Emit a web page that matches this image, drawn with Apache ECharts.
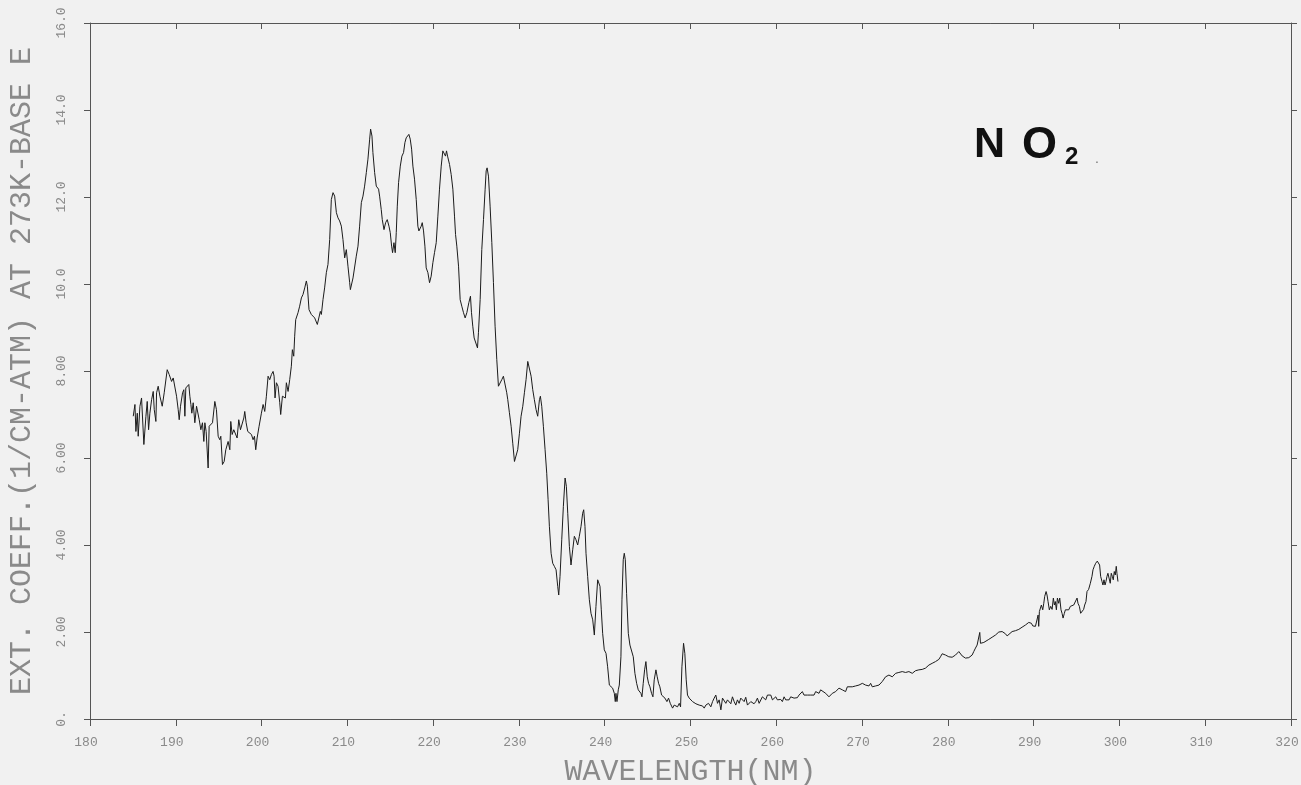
<!DOCTYPE html>
<html>
<head>
<meta charset="utf-8">
<script src="https://cdn.jsdelivr.net/npm/echarts@6/dist/echarts.min.js"></script>
<style>
html,body{margin:0;padding:0;background:#f1f1f1;}
#chart{width:1301px;height:785px;}
</style>
</head>
<body>
<div id="chart"></div>
<script>
// Wavelength (nm) / extinction coefficient pairs
const segment185to208 = [[185.04,6.96],[185.24,7.23],[185.35,6.61],[185.51,7.03],[185.62,6.50],[185.82,7.19],[186.01,7.38],[186.13,7.34],[186.28,6.31],[186.52,6.96],[186.67,7.30],[186.83,6.65],[186.98,7.03],[187.18,7.34],[187.37,7.53],[187.49,7.11],[187.68,6.84],[187.76,7.50],[187.95,7.65],[188.15,7.42],[188.42,7.19],[188.65,7.50],[188.81,7.53],[189.00,8.03],[189.23,7.92],[189.51,7.76],[189.70,7.84],[189.89,7.80],[190.09,7.42],[190.28,7.11],[190.40,6.88],[190.55,7.19],[190.79,7.50],[190.94,7.57],[191.06,6.96],[191.17,7.61],[191.33,7.57],[191.52,7.69],[191.64,7.42],[191.76,7.23],[191.87,7.03],[192.03,7.27],[192.22,6.81],[192.42,7.19],[192.53,7.23],[192.73,6.88],[192.92,6.65],[193.11,6.81],[193.27,6.38],[193.39,6.81],[193.54,6.61],[193.66,6.61],[193.77,5.77],[193.89,6.73],[194.05,6.77],[194.28,6.81],[194.55,7.30],[194.74,7.11],[194.94,6.50],[195.13,6.42],[195.25,6.50],[195.44,5.85],[195.64,5.92],[195.83,6.19],[196.10,6.38],[196.30,6.19],[196.41,6.84],[196.57,6.54],[196.76,6.65],[196.99,6.61],[197.15,6.46],[197.34,6.88],[197.54,6.65],[197.73,6.65],[197.93,6.92],[198.04,7.07],[198.20,6.81],[198.39,6.61],[198.62,6.65],[198.82,6.54],[199.01,6.42],[199.17,6.50],[199.32,6.19],[199.48,6.46],[199.71,6.73],[199.98,7.03],[200.18,7.23],[200.37,7.07],[200.56,7.42],[200.76,7.88],[200.95,7.80],[201.15,7.92],[201.34,7.99],[201.46,7.88],[201.57,7.38],[201.73,7.73],[201.92,7.65],[202.12,7.27],[202.23,7.00],[202.43,7.42],[202.62,7.46],[202.78,7.38],[202.89,7.73],[203.09,7.53],[203.28,7.80],[203.47,8.11],[203.59,8.49],[203.75,8.34],[203.86,8.80],[203.98,9.18],[204.25,9.34],[204.44,9.49],[204.64,9.68],[204.83,9.76],[205.03,9.91],[205.22,10.07],[205.34,9.95],[205.53,9.41],[205.80,9.30],[206.19,9.22],[206.50,9.07],[206.66,9.03],[206.85,9.37],[206.97,9.30],[207.16,9.64],[207.35,9.91],[207.55,10.26],[207.74,10.45]];

const segment208to229 = [[207.94,11.02],[208.13,11.94],[208.33,12.10],[208.52,12.02],[208.72,11.64],[208.91,11.52],[209.10,11.45],[209.30,11.33],[209.49,11.02],[209.69,10.60],[209.88,10.79],[210.07,10.41],[210.27,10.03],[210.35,9.87],[210.66,10.14],[210.85,10.18],[211.04,10.64],[211.24,10.87],[211.43,11.33],[211.63,11.87],[211.82,12.02],[212.01,12.25],[212.21,12.56],[212.40,12.87],[212.60,13.33],[212.71,13.56],[212.87,13.40],[212.98,13.02],[213.18,12.56],[213.37,12.25],[213.64,12.18],[213.76,12.02],[213.95,11.71],[214.07,11.48],[214.27,11.25],[214.46,11.41],[214.65,11.48],[214.85,11.33],[215.00,11.18],[215.16,10.87],[215.27,10.72],[215.43,10.95],[215.58,10.72],[215.70,11.18],[215.82,11.79],[215.97,12.33],[216.17,12.71],[216.36,12.94],[216.55,13.02],[216.71,13.25],[216.86,13.36],[217.06,13.40],[217.17,13.44],[217.33,13.33],[217.49,13.10],[217.64,12.71],[217.83,12.41],[218.03,11.94],[218.22,11.33],[218.34,11.22],[218.49,11.25],[218.61,11.33],[218.73,11.41],[218.88,11.22],[219.04,10.87],[219.19,10.37],[219.39,10.26],[219.58,10.03],[219.77,10.18],[219.97,10.49],[220.16,10.72],[220.36,10.95],[220.55,11.56],[220.74,12.18],[220.94,12.71],[221.13,13.06],[221.33,13.06],[221.44,12.94],[221.56,13.06],[221.68,12.94],[221.91,12.75],[222.10,12.52],[222.30,12.18],[222.49,11.56],[222.61,11.14],[222.76,10.87],[222.96,10.41],[223.15,9.64],[223.34,9.49],[223.54,9.34],[223.73,9.22],[223.93,9.34],[224.16,9.57],[224.35,9.72],[224.47,9.34],[224.62,9.03],[224.78,8.76],[225.01,8.72],[225.17,8.53],[225.28,8.88],[225.48,9.64],[225.67,10.79],[225.87,11.48],[226.06,12.18],[226.18,12.60],[226.29,12.67],[226.45,12.48],[226.64,11.79],[226.84,10.95],[227.03,10.03],[227.22,9.03],[227.42,8.26],[227.61,7.65],[227.81,7.65],[228.00,7.80],[228.19,7.88],[228.39,7.84],[228.58,7.50]];

const segment229to250 = [[228.70,7.34],[228.89,7.04],[229.09,6.73],[229.28,6.34],[229.48,5.92],[229.67,5.92],[229.86,6.19],[230.06,6.57],[230.25,6.96],[230.45,7.19],[230.64,7.50],[230.83,7.80],[231.03,8.22],[231.22,8.19],[231.42,7.88],[231.61,7.57],[231.80,7.34],[232.00,7.11],[232.19,6.96],[232.39,7.34],[232.50,7.42],[232.66,7.19],[232.85,6.73],[233.05,6.19],[233.24,5.65],[233.40,5.04],[233.55,4.43],[233.75,3.81],[233.94,3.58],[234.13,3.51],[234.33,3.43],[234.52,3.05],[234.64,2.85],[234.79,3.28],[234.99,4.12],[235.18,4.89],[235.38,5.54],[235.53,5.35],[235.69,4.73],[235.88,3.97],[236.07,3.54],[236.27,3.89],[236.46,4.20],[236.65,4.12],[236.85,4.00],[237.04,4.20],[237.24,4.43],[237.43,4.73],[237.55,4.81],[237.70,4.43],[237.82,3.81],[238.01,3.28],[238.21,2.74],[238.40,2.43],[238.60,2.28],[238.79,1.93],[238.98,2.59],[239.18,3.20],[239.29,3.24],[239.45,3.05],[239.60,2.51],[239.76,1.97],[239.95,1.59],[240.15,1.51],[240.34,1.20],[240.54,0.78],[240.73,0.74],[240.92,0.71],[241.12,0.59],[241.23,0.40],[241.31,0.59],[241.43,0.40],[241.58,0.67],[241.70,0.78],[241.89,1.43],[242.01,2.74],[242.16,3.66],[242.28,3.81],[242.40,3.66],[242.55,2.89],[242.75,1.97],[242.94,1.70],[243.13,1.74],[243.33,1.43],[243.52,1.05],[243.72,0.82],[243.91,0.67],[244.07,0.63],[244.22,0.59],[244.34,0.51],[244.49,0.82],[244.65,1.13],[244.80,1.32],[244.96,0.97],[245.11,0.82],[245.27,0.74],[245.46,0.59],[245.62,0.51],[245.77,0.90],[245.97,1.13],[246.12,0.97],[246.28,0.82],[246.43,0.74],[246.63,0.55],[246.82,0.51],[247.02,0.48],[247.25,0.40],[247.44,0.48],[247.64,0.36],[247.91,0.25],[248.10,0.32],[248.30,0.36],[248.49,0.28],[248.69,0.36],[248.84,0.28],[249.00,1.20],[249.19,1.74],[249.34,1.51],[249.50,0.90],[249.65,0.55],[249.85,0.48]];

const segment250to286 = [[250.04,0.48],[250.24,0.40],[250.63,0.35],[251.01,0.32],[251.40,0.30],[251.60,0.25],[251.79,0.32],[252.10,0.36],[252.37,0.28],[252.57,0.40],[252.76,0.48],[252.95,0.55],[253.15,0.36],[253.34,0.44],[253.54,0.21],[253.73,0.48],[253.92,0.51],[254.12,0.36],[254.31,0.44],[254.51,0.48],[254.70,0.35],[254.89,0.51],[255.09,0.40],[255.28,0.32],[255.47,0.44],[255.67,0.36],[255.86,0.48],[256.06,0.48],[256.25,0.40],[256.44,0.50],[256.64,0.32],[256.83,0.28],[257.03,0.40],[257.22,0.44],[257.41,0.35],[257.61,0.40],[257.80,0.48],[258.00,0.36],[258.38,0.51],[258.58,0.55],[258.77,0.44],[258.97,0.55],[259.16,0.51],[259.36,0.55],[259.55,0.44],[259.74,0.48],[259.94,0.51],[260.13,0.44],[260.32,0.42],[260.52,0.45],[260.71,0.40],[260.91,0.51],[261.10,0.44],[261.29,0.48],[261.49,0.44],[261.68,0.51],[261.88,0.50],[262.07,0.48],[262.26,0.51],[262.46,0.49],[262.65,0.55],[262.85,0.53],[263.04,0.63],[263.23,0.55],[263.43,0.51],[263.62,0.55],[263.82,0.59],[264.01,0.55],[264.20,0.59],[264.40,0.55],[264.59,0.63],[264.79,0.67],[264.98,0.59],[265.17,0.67],[265.37,0.63],[265.76,0.59],[266.14,0.51],[266.34,0.55],[266.53,0.59],[266.92,0.63],[267.31,0.71],[267.50,0.67],[267.70,0.67],[268.08,0.63],[268.28,0.74],[268.47,0.71],[268.86,0.74],[269.25,0.76],[269.64,0.78],[270.03,0.82],[270.22,0.82],[270.41,0.78],[270.80,0.76],[271.00,0.82],[271.19,0.74],[271.38,0.73],[271.58,0.76],[271.97,0.78],[272.35,0.86],[272.55,0.90],[272.74,0.97],[272.94,0.97],[273.13,1.01],[273.52,0.97],[273.91,1.05],[274.29,1.07],[274.68,1.09],[275.07,1.07],[275.46,1.09],[275.85,1.05],[276.23,1.11],[276.62,1.13],[277.01,1.14],[277.40,1.17],[277.79,1.24],[278.17,1.28],[278.56,1.32],[278.95,1.37],[279.14,1.43],[279.34,1.50],[279.53,1.51],[279.73,1.47],[280.11,1.43],[280.50,1.42],[280.89,1.47],[281.08,1.51],[281.28,1.55],[281.47,1.53],[281.67,1.45],[281.86,1.42],[282.05,1.40],[282.44,1.41],[282.64,1.43],[282.83,1.47],[283.02,1.55],[283.22,1.63],[283.41,1.70],[283.61,1.74],[283.72,1.99],[283.80,1.74],[283.99,1.70],[284.19,1.76],[284.38,1.80],[284.77,1.83],[285.16,1.88],[285.55,1.93],[285.94,2.00]];

const segment286to300 = [[286.33,2.01],[286.71,1.96],[286.91,1.91],[287.10,1.93],[287.49,2.01],[287.68,1.97],[287.88,2.03],[288.27,2.06],[288.65,2.11],[289.04,2.16],[289.43,2.22],[289.62,2.26],[289.74,2.20],[289.90,2.14],[290.21,2.13],[290.40,2.14],[290.52,2.39],[290.59,2.13],[290.67,2.47],[290.79,2.43],[290.90,2.62],[291.06,2.51],[291.18,2.66],[291.29,2.82],[291.45,2.93],[291.56,2.85],[291.68,2.70],[291.83,2.51],[291.99,2.59],[292.15,2.52],[292.30,2.78],[292.42,2.62],[292.53,2.70],[292.65,2.51],[292.77,2.78],[292.92,2.66],[293.04,2.78],[293.19,2.51],[293.31,2.43],[293.43,2.32],[293.58,2.43],[293.70,2.51],[293.89,2.55],[294.09,2.51],[294.28,2.59],[294.47,2.60],[294.67,2.62],[294.86,2.65],[295.06,2.78],[295.17,2.66],[295.33,2.59],[295.48,2.43],[295.64,2.47],[295.83,2.52],[295.95,2.62],[296.10,2.70],[296.22,2.93],[296.41,2.98],[296.61,3.12],[296.80,3.28],[296.92,3.43],[297.07,3.51],[297.23,3.58],[297.42,3.63],[297.58,3.61],[297.69,3.54],[297.81,3.28],[297.97,3.16],[298.08,3.08],[298.20,3.20],[298.32,3.08],[298.43,3.16],[298.55,3.28],[298.66,3.35],[298.82,3.31],[298.93,3.12],[299.05,3.35],[299.17,3.28],[299.28,3.20],[299.40,3.39],[299.52,3.31],[299.63,3.51],[299.71,3.35],[299.83,3.16]];

const yTickLabels = ['0.', '2.00', '4.00', '6.00', '8.00', '10.0', '12.0', '14.0', '16.0'];
const xAxisTitle = 'WAVELENGTH(NM)';
const yAxisTitle = 'EXT. COEFF.(1/CM-ATM) AT 273K-BASE E';

const spectrum = [].concat(segment185to208, segment208to229, segment229to250, segment250to286, segment286to300);

const MONO = '"Liberation Mono", "DejaVu Sans Mono", monospace';
const LABEL_GRAY = '#8a8a8a';
const AXIS_COLOR = '#555';

const chart = echarts.init(document.getElementById('chart'), null, {renderer: 'canvas'});
chart.setOption({
  backgroundColor: '#f1f1f1',
  animation: false,
  grid: {left: 90, right: 10, top: 23, bottom: 66, containLabel: false, outerBoundsMode: 'none'},
  xAxis: [{
    type: 'value', min: 180, max: 320, interval: 10, position: 'bottom',
    axisLine: {show: true, onZero: false, lineStyle: {color: AXIS_COLOR, width: 1}},
    axisTick: {show: true, length: 7, lineStyle: {color: AXIS_COLOR}},
    axisLabel: {color: LABEL_GRAY, fontFamily: MONO, fontSize: 13, margin: 17, padding: [0, 8, 0, 0]},
    splitLine: {show: false},
    name: xAxisTitle, nameLocation: 'middle', nameGap: 38,
    nameTextStyle: {color: LABEL_GRAY, fontFamily: MONO, fontSize: 30}
  }, {
    type: 'value', min: 180, max: 320, interval: 10, position: 'top',
    axisLine: {show: true, onZero: false, lineStyle: {color: AXIS_COLOR, width: 1}},
    axisTick: {show: true, inside: true, length: 6, lineStyle: {color: AXIS_COLOR}},
    axisLabel: {show: false}, splitLine: {show: false}
  }],
  yAxis: [{
    type: 'value', min: 0, max: 16, interval: 2, position: 'left',
    axisLine: {show: true, onZero: false, lineStyle: {color: AXIS_COLOR, width: 1}},
    axisTick: {show: true, length: 6, lineStyle: {color: AXIS_COLOR}},
    axisLabel: {
      color: LABEL_GRAY, fontFamily: MONO, fontSize: 13, rotate: 90, margin: 22,
      formatter: v => yTickLabels[Math.round(v / 2)]
    },
    splitLine: {show: false},
    name: yAxisTitle, nameLocation: 'middle', nameGap: 53, nameRotate: 90,
    nameTextStyle: {color: LABEL_GRAY, fontFamily: MONO, fontSize: 30}
  }, {
    type: 'value', min: 0, max: 16, interval: 2, position: 'right',
    axisLine: {show: true, onZero: false, lineStyle: {color: AXIS_COLOR, width: 1}},
    axisTick: {show: true, length: 6, lineStyle: {color: AXIS_COLOR}},
    axisLabel: {show: false}, splitLine: {show: false}
  }],
  graphic: [
    {type: 'text', left: 974, top: 124, style: {text: 'N', font: 'bold 43px "Liberation Sans", Arial, sans-serif', fill: '#111'}},
    {type: 'text', left: 1022, top: 123, style: {text: 'O', font: 'bold 45px "Liberation Sans", Arial, sans-serif', fill: '#111'}},
    {type: 'text', left: 1065, top: 145, style: {text: '2', font: 'bold 24px "Liberation Sans", Arial, sans-serif', fill: '#111'}},
    {type: 'text', left: 1095, top: 152, style: {text: '.', font: '14px "Liberation Sans", Arial, sans-serif', fill: '#777'}}
  ],
  series: [{
    type: 'line', xAxisIndex: 0, yAxisIndex: 0,
    data: spectrum, showSymbol: false, symbol: 'none', smooth: false,
    lineStyle: {color: '#1c1c1c', width: 1}
  }]
});
</script>
</body>
</html>
